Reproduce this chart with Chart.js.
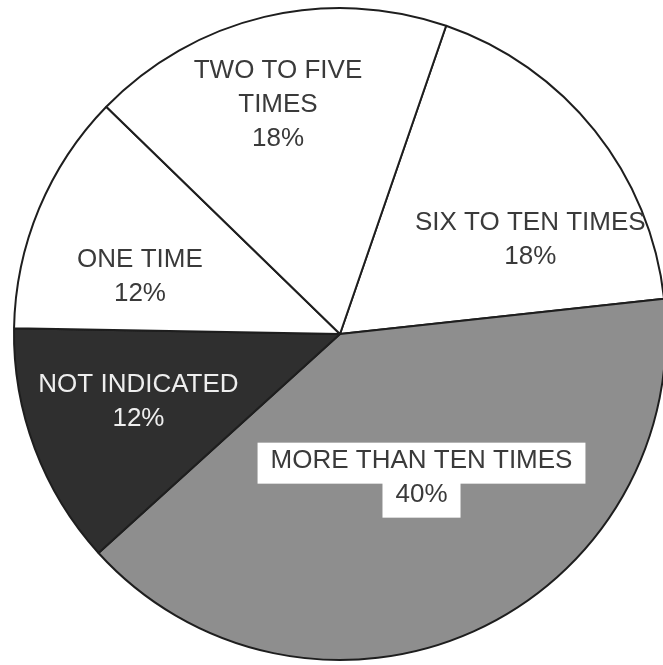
<!DOCTYPE html>
<html>
<head>
<meta charset="utf-8">
<script src="https://cdn.jsdelivr.net/npm/chart.js@4/dist/chart.umd.min.js"></script>
<style>
    html, body { margin: 0; padding: 0; background: #ffffff; overflow: hidden; }
    #pieWrap { width: 670px; height: 665px; }
</style>
</head>
<body>
<div id="pieWrap"><canvas id="pieChart" width="670" height="665"></canvas></div>
<script>
// ============================================================
// DATA (clockwise from the slice that starts near 12 o'clock)
// ============================================================
const categories = [
    "SIX TO TEN TIMES",
    "MORE THAN TEN TIMES",
    "NOT INDICATED",
    "ONE TIME",
    "TWO TO FIVE\nTIMES"
];
const percents = [18, 40, 12, 12, 18];

// ============================================================
// LOOK
// ============================================================
const sliceColors = ["#ffffff", "#8e8e8e", "#2f2f2f", "#ffffff", "#ffffff"];
const textColors = ["#3a3a3a", "#3a3a3a", "#eeeeee", "#3a3a3a", "#3a3a3a"];
// where each label block sits: angle clockwise from top (deg), fraction of radius
const labelSpots = [
    { angle: 63, r: 0.655 },
    { angle: 150, r: 0.5, boxed: true },
    { angle: 252, r: 0.65 },
    { angle: 286.5, r: 0.64 },
    { angle: 345, r: 0.735 }
];
const FONT = "26px 'Liberation Sans', Arial, sans-serif";
const LINE_H = 34;

/**
 * draws the slice captions (name + percent) inside the pie
 */
const sliceLabels = {
    id: "sliceLabels",
    afterDatasetsDraw(chart) {
        const ctx = chart.ctx;
        const arcs = chart.getDatasetMeta(0).data;
        ctx.save();
        ctx.font = FONT;
        ctx.textAlign = "center";
        ctx.textBaseline = "alphabetic";

        arcs.forEach((arc, i) => {
            const spot = labelSpots[i];
            const a = spot.angle * Math.PI / 180;
            const dist = arc.outerRadius * spot.r;
            const cx = arc.x + Math.sin(a) * dist;
            const cy = arc.y - Math.cos(a) * dist;

            const lines = categories[i].split("\n");
            lines.push(percents[i] + "%");

            // block centre -> first baseline
            const capH = 19;
            const blockH = capH + (lines.length - 1) * LINE_H;
            const firstBase = cy - blockH / 2 + capH;

            if (spot.boxed) {
                ctx.fillStyle = "#ffffff";
                lines.forEach((txt, k) => {
                    const w = ctx.measureText(txt).width + 26;
                    const base = firstBase + k * LINE_H;
                    ctx.fillRect(cx - w / 2, base - 25, w, 41);
                });
            }

            ctx.fillStyle = textColors[i];
            lines.forEach((txt, k) => {
                ctx.fillText(txt, cx, firstBase + k * LINE_H);
            });
        });
        ctx.restore();
    }
};

const canvas = document.getElementById("pieChart");

new Chart(canvas, {
    type: "pie",
    data: {
        labels: categories,
        datasets: [{
            data: percents,
            backgroundColor: sliceColors,
            borderColor: "#1e1e1e",
            borderWidth: 2
        }]
    },
    options: {
        responsive: false,
        animation: false,
        rotation: 19,
        layout: {
            padding: { left: 13, right: 3, top: 7, bottom: 4 }
        },
        plugins: {
            legend: { display: false },
            tooltip: { enabled: false }
        }
    },
    plugins: [sliceLabels]
});
</script>
</body>
</html>
